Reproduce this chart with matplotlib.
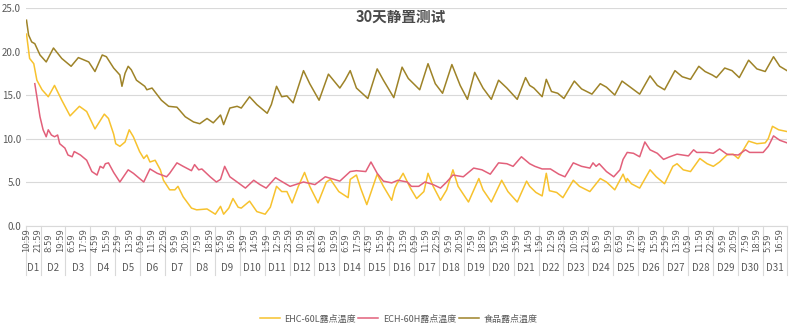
import matplotlib
matplotlib.use("Agg")
import matplotlib.pyplot as plt
import matplotlib.transforms as mtransforms
import numpy as np

plt.rcParams['font.family'] = ['Noto Sans CJK SC', 'DejaVu Sans']

# x = hours since D1 10:59 (hourly samples, last one D31 23:59)
# values (dew point, deg C)
ehc_h = [0, 3, 7, 10, 15, 21, 27, 34, 42, 51, 58, 66, 75, 79, 84, 86, 90, 95, 99, 103,
         109, 113, 116, 119, 124, 129, 132, 138, 143, 146, 151, 159, 164, 174, 182, 187,
         190, 195, 199, 204, 207, 215, 222, 230, 235, 241, 246, 251, 256, 262, 268, 273,
         281, 289, 293, 301, 310, 312, 318, 322, 328, 338, 344, 352, 355, 357, 363, 370,
         376, 383, 387, 392, 399, 405, 411, 416, 426, 436, 440, 448, 458, 464, 473, 482,
         485, 491, 497, 501, 504, 511, 517, 527, 533, 543, 553, 559, 567, 575, 578, 579,
         583, 591, 601, 607, 615, 623, 627, 633, 640, 649, 656, 662, 668, 675, 681, 686,
         691, 696, 704, 712, 715, 719, 725, 733]
ehc_v = [22.0, 19.2, 18.6, 16.7, 15.6, 14.8, 16.1, 14.4, 12.6, 13.7, 13.1, 11.1, 12.8, 12.3,
         10.5, 9.4, 9.1, 9.6, 11.0, 10.2, 8.5, 7.7, 8.1, 7.3, 7.5, 6.4, 5.2, 4.1, 4.1, 4.5,
         3.3, 2.0, 1.8, 1.9, 1.3, 2.2, 1.3, 2.0, 3.1, 2.1, 2.0, 2.8, 1.6, 1.3, 2.1, 4.5,
         3.9, 3.9, 2.6, 4.5, 6.1, 4.5, 2.6, 5.0, 5.3, 3.9, 3.2, 5.3, 5.8, 4.3, 2.4, 5.9,
         4.5, 2.9, 4.3, 4.8, 6.0, 4.3, 3.1, 3.9, 6.0, 4.5, 2.9, 4.1, 6.4, 4.5, 2.7, 5.4,
         4.1, 2.7, 5.2, 3.9, 2.7, 5.1, 4.5, 3.8, 3.4, 6.0, 4.0, 3.8, 3.2, 5.2, 4.5, 3.9,
         5.4, 5.0, 4.1, 5.9, 5.0, 5.4, 4.8, 4.3, 6.4, 5.6, 4.8, 6.8, 7.1, 6.4, 6.2, 7.7,
         7.1, 6.8, 7.3, 8.1, 8.2, 7.7, 8.7, 9.7, 9.4, 9.5, 10.0, 11.4, 11.0, 10.8]

ech_h = [8, 10, 13, 16, 19, 21, 24, 27, 30, 32, 37, 40, 44, 46, 52, 55, 58, 63, 68, 71,
         74, 76, 79, 84, 90, 98, 103, 113, 119, 126, 135, 138, 145, 151, 159, 162, 166,
         169, 177, 183, 187, 191, 196, 203, 211, 219, 225, 231, 240, 244, 254, 267, 278,
         288, 302, 312, 318, 327, 332, 338, 344, 352, 358, 367, 371, 378, 384, 392, 399,
         405, 411, 421, 431, 439, 447, 455, 463, 469, 477, 485, 490, 497, 505, 513, 519,
         527, 535, 543, 546, 549, 552, 559, 566, 572, 575, 579, 585, 591, 596, 601, 608,
         614, 620, 627, 638, 643, 646, 656, 662, 668, 675, 686, 693, 697, 710, 715, 720,
         726, 733]
ech_v = [16.3, 14.8, 12.5, 11.0, 10.2, 11.0, 10.4, 10.2, 10.4, 9.4, 8.9, 8.1, 7.9, 8.5,
         8.1, 7.8, 7.5, 6.2, 5.8, 6.8, 6.6, 7.1, 7.2, 6.1, 5.0, 6.4, 6.0, 5.0, 6.5, 6.0,
         5.6, 6.0, 7.2, 6.8, 6.3, 7.0, 6.4, 6.5, 5.6, 5.0, 5.3, 6.8, 5.6, 5.0, 4.3, 5.2,
         4.7, 4.3, 5.5, 5.2, 4.5, 5.0, 4.7, 5.6, 5.1, 6.2, 6.3, 6.2, 7.3, 6.0, 5.1, 4.9,
         5.2, 5.0, 4.5, 4.5, 5.0, 4.7, 4.3, 5.0, 5.8, 5.6, 6.6, 6.4, 5.9, 7.2, 7.1, 6.8,
         7.9, 7.1, 6.8, 6.5, 6.5, 5.9, 5.6, 7.2, 6.8, 6.6, 7.2, 6.8, 7.1, 6.2, 5.6, 6.4,
         7.6, 8.4, 8.3, 7.9, 9.6, 8.7, 8.3, 7.6, 7.9, 8.2, 8.0, 8.7, 8.4, 8.4, 8.3, 8.8,
         8.2, 8.1, 8.7, 8.4, 8.4, 9.1, 10.3, 9.8, 9.5]

food_h = [0, 2, 5, 8, 13, 19, 26, 34, 43, 50, 60, 66, 73, 77, 84, 90, 92, 95, 98, 101,
          106, 114, 116, 121, 130, 137, 145, 153, 161, 167, 174, 180, 187, 190, 196, 203,
          207, 215, 222, 228, 232, 236, 241, 246, 251, 257, 267, 273, 282, 291, 302, 307,
          312, 318, 329, 338, 344, 354, 362, 368, 379, 387, 394, 401, 410, 418, 425, 432,
          440, 448, 455, 463, 473, 481, 485, 489, 497, 501, 506, 512, 518, 528, 535, 545,
          553, 559, 567, 574, 582, 591, 601, 608, 615, 625, 632, 640, 648, 654, 661, 665,
          673, 680, 687, 696, 704, 712, 720, 726, 733]
food_v = [23.6, 21.9, 21.1, 20.9, 19.6, 18.8, 20.4, 19.2, 18.3, 19.3, 18.8, 17.7, 19.6,
          19.4, 18.1, 17.3, 16.0, 17.5, 18.3, 17.9, 16.7, 16.0, 15.6, 15.8, 14.4, 13.7,
          13.6, 12.5, 11.9, 11.7, 12.3, 11.8, 12.7, 11.6, 13.5, 13.7, 13.5, 14.8, 13.9,
          13.3, 12.9, 13.9, 16.0, 14.8, 14.9, 14.1, 17.8, 16.3, 14.4, 17.4, 15.8, 16.7,
          17.8, 15.8, 14.6, 18.0, 16.7, 14.7, 18.2, 16.9, 15.6, 18.6, 16.3, 15.2, 18.5,
          16.1, 14.5, 17.6, 15.8, 14.5, 16.7, 15.8, 14.5, 17.0, 16.1, 15.8, 14.8, 16.8,
          15.4, 15.2, 14.6, 16.6, 15.7, 15.1, 16.3, 15.9, 15.0, 16.6, 15.9, 15.1, 17.2,
          16.1, 15.6, 17.8, 17.1, 16.8, 18.3, 17.7, 17.3, 17.0, 18.1, 17.8, 17.0, 19.0,
          18.0, 17.7, 19.4, 18.3, 17.8]

series_names = ["EHC-60L露点温度", "ECH-60H露点温度", "食品露点温度"]
series_colors = ["#F7C22E", "#E2607A", "#9E8328"]

n_hours = 734          # D1 10:59 .. D31 23:59
start_hour = 10        # first sample is 10:59
label_step = 11        # axis labels every 11 samples
day_names = ["D%d" % i for i in range(1, 32)]

W, H = 797, 325
fig = plt.figure(figsize=(W / 100, H / 100), dpi=100)
x0, x1, y0, y1 = 26.5, 787, 225.5, 8
ax = fig.add_axes([x0 / W, 1 - y0 / H, (x1 - x0) / W, (y0 - y1) / H])

for hh, vv, name, col in zip([ehc_h, ech_h, food_h], [ehc_v, ech_v, food_v],
                             series_names, series_colors):
    ax.plot(hh, vv, color=col, lw=1.1, label=name)

ax.set_xlim(0, n_hours - 1)
ax.set_ylim(0, 25)
ax.set_yticks(np.arange(0, 26, 5))
ax.set_yticklabels(["%.1f" % t for t in np.arange(0, 26, 5)])
ax.tick_params(axis="y", length=0, labelsize=7, colors="#595959", pad=4)
ax.set_xticks([])
ax.yaxis.grid(True, color="#D9D9D9", lw=0.8)
ax.set_axisbelow(True)
for s in ["top", "left", "right"]:
    ax.spines[s].set_visible(False)
ax.spines["bottom"].set_color("#D9D9D9")
ax.spines["bottom"].set_linewidth(0.8)

tr = mtransforms.blended_transform_factory(ax.transData, fig.transFigure)

# hour labels (first level of the category axis)
for h in range(0, n_hours, label_step):
    lab = "%d:59" % ((start_hour + h) % 24)
    ax.text(h, 1 - 252 / H, lab, transform=tr, rotation=90, ha="center", va="bottom",
            fontsize=6, color="#595959", family=["DejaVu Sans"])

# day groups (second level)
first_day_end = 24 - start_hour - 0.5
bounds = [0] + [first_day_end + 24 * k for k in range(30)] + [n_hours - 1]
for b in bounds:
    ax.plot([b, b], [1 - 226 / H, 1 - 275 / H], transform=tr, color="#D9D9D9",
            lw=0.8, clip_on=False)
for i, name in enumerate(day_names):
    xc = (bounds[i] + bounds[i + 1]) / 2
    ax.text(xc, 1 - 268 / H, name, transform=tr, ha="center", va="center",
            fontsize=7, color="#595959")

fig.text(401 / W, 1 - 17 / H, "30天静置测试", ha="center", va="center",
         fontsize=10.5, fontweight="bold", color="#4A4A4A")

fig.legend(loc="center", bbox_to_anchor=(0.5, 1 - 319 / H), ncol=3, frameon=False,
           fontsize=6.5, handlelength=2.2, columnspacing=0.3, handletextpad=0.5,
           labelcolor="#595959")

fig.savefig("out.png", dpi=100)
